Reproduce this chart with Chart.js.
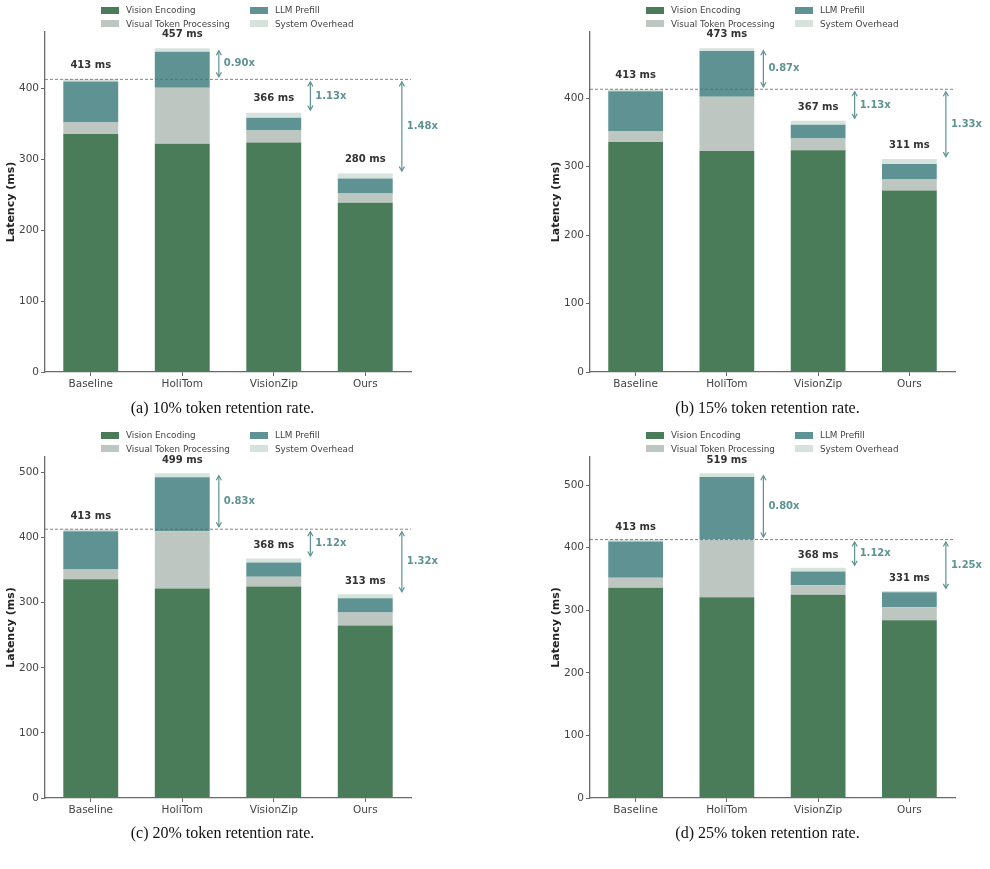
<!DOCTYPE html>
<html>
<head>
<meta charset="utf-8">
<script src="https://cdn.jsdelivr.net/npm/chart.js@4.4.0/dist/chart.umd.min.js"></script>
<style>
  body { margin: 0; background: #fff; width: 990px; height: 869px; position: relative; overflow: hidden; font-family: "DejaVu Sans", sans-serif; }
  .panel { position: absolute; width: 445px; height: 425px; }
  .panel canvas { position: absolute; left: 0; top: 0; }
  .leg { position: absolute; font-size: 8.8px; color: #444; white-space: nowrap; line-height: 10px; }
  .leg span.box { position: absolute; left: 0; top: 1.5px; width: 18px; height: 7px; }
  .leg span.txt { position: absolute; left: 25px; top: 0; }
  .caption { position: absolute; left: 0; width: 445px; top: 399px; text-align: center; font-family: "Liberation Serif", serif; font-size: 16px; color: #111; }
</style>
</head>
<body>
<div class="panel" id="pa" style="left:0;top:0"><canvas id="ca" width="445" height="400"></canvas></div>
<div class="panel" id="pb" style="left:545px;top:0"><canvas id="cb" width="445" height="400"></canvas></div>
<div class="panel" id="pc" style="left:0;top:425px"><canvas id="cc" width="445" height="400"></canvas></div>
<div class="panel" id="pd" style="left:545px;top:425px"><canvas id="cd" width="445" height="400"></canvas></div>
<script>
// categories and series
const categories = ['Baseline', 'HoliTom', 'VisionZip', 'Ours'];
const seriesNames = ['Vision Encoding', 'Visual Token Processing', 'LLM Prefill', 'System Overhead'];
const seriesColors = ['#4a7c59', '#bdc6c0', '#5f9393', '#d5e3dc'];

// 10% retention
const visionEnc10 = [336, 322, 324, 239];
const tokenProc10 = [16, 79, 17, 13];
const llmPrefill10 = [58, 51, 18, 21];
const overhead10 = [3, 5, 7, 7];
const totals10 = [413, 457, 366, 280];
const speedup10 = ['0.90x', '1.13x', '1.48x'];

// 15% retention
const visionEnc15 = [336, 323, 324, 265];
const tokenProc15 = [16, 79, 17, 17];
const llmPrefill15 = [58, 67, 20, 22];
const overhead15 = [3, 4, 6, 7];
const totals15 = [413, 473, 367, 311];
const speedup15 = ['0.87x', '1.13x', '1.33x'];

// 20% retention
const visionEnc20 = [336, 322, 325, 265];
const tokenProc20 = [16, 88, 15, 20];
const llmPrefill20 = [58, 83, 22, 22];
const overhead20 = [3, 6, 6, 6];
const totals20 = [413, 499, 368, 313];
const speedup20 = ['0.83x', '1.12x', '1.32x'];

// 25% retention
const visionEnc25 = [336, 321, 325, 284];
const tokenProc25 = [16, 93, 15, 21];
const llmPrefill25 = [58, 99, 22, 24];
const overhead25 = [3, 6, 6, 2];
const totals25 = [413, 519, 368, 331];
const speedup25 = ['0.80x', '1.12x', '1.25x'];

const yTicks = [0, 100, 200, 300, 400, 500];

const TEAL = '#5f9393';

// dashed baseline, total labels, speedup arrows
const annotate = {
  id: 'annotate',
  afterDatasetsDraw(chart, args, opts) {
    const { ctx, chartArea } = chart;
    const x = chart.scales.x, y = chart.scales.y;
    const totals = opts.totals;
    ctx.save();
    const yRef = y.getPixelForValue(totals[0]);
    ctx.strokeStyle = '#666';
    ctx.lineWidth = 0.8;
    ctx.setLineDash([3, 2]);
    ctx.beginPath();
    ctx.moveTo(chartArea.left, yRef);
    ctx.lineTo(chartArea.right, yRef);
    ctx.stroke();
    ctx.setLineDash([]);

    ctx.font = 'bold 10px "DejaVu Sans"';
    ctx.fillStyle = '#333';
    ctx.textAlign = 'center';
    ctx.textBaseline = 'middle';
    totals.forEach((t, i) => {
      ctx.fillText(t + ' ms', x.getPixelForValue(i), y.getPixelForValue(t + 20));
    });

    ctx.strokeStyle = TEAL;
    ctx.fillStyle = TEAL;
    ctx.lineWidth = 1.2;
    ctx.textAlign = 'left';
    opts.speedups.forEach((s, k) => {
      const i = k + 1;
      const ax = x.getPixelForValue(i + 0.4);
      const yT = y.getPixelForValue(totals[i]);
      const dir = yT < yRef ? -1 : 1;
      const y0 = yRef + dir * 2.5, y1 = yT - dir * 2.5;
      ctx.beginPath();
      ctx.moveTo(ax, y0);
      ctx.lineTo(ax, y1);
      ctx.stroke();
      [[y0, -dir], [y1, dir]].forEach(([yy, d]) => {
        ctx.beginPath();
        ctx.moveTo(ax - 2.6, yy - d * 4.5);
        ctx.lineTo(ax, yy);
        ctx.lineTo(ax + 2.6, yy - d * 4.5);
        ctx.stroke();
      });
      ctx.fillText(s, ax + 5, (y0 + y1) / 2);
    });
    ctx.restore();
  }
};

function makeLegend(panelId) {
  const panel = document.getElementById(panelId);
  const order = [[0, 101, 5], [1, 101, 18.5], [2, 250, 5], [3, 250, 18.5]];
  order.forEach(([k, left, top]) => {
    const d = document.createElement('div');
    d.className = 'leg';
    d.style.left = left + 'px';
    d.style.top = top + 'px';
    d.innerHTML = '<span class="box" style="background:' + seriesColors[k] + '"></span><span class="txt">' + seriesNames[k] + '</span>';
    panel.appendChild(d);
  });
}

function makeCaption(panelId, text) {
  const d = document.createElement('div');
  d.className = 'caption';
  d.textContent = text;
  document.getElementById(panelId).appendChild(d);
}

function drawPanel(canvasId, panelId, caption, series, totals, speedups, xAxisH, padRight) {
  makeLegend(panelId);
  makeCaption(panelId, caption);
  const ctx = document.getElementById(canvasId).getContext('2d');
  const ymax = Math.max(...totals) * 1.05;
  new Chart(ctx, {
    type: 'bar',
    data: {
      labels: categories,
      datasets: series.map((vals, k) => ({
        label: seriesNames[k],
        data: vals,
        backgroundColor: seriesColors[k],
        borderWidth: 0,
        barPercentage: 0.6,
        categoryPercentage: 1.0
      }))
    },
    options: {
      responsive: false,
      animation: false,
      devicePixelRatio: 1,
      layout: { padding: { top: 32, right: padRight, left: 0, bottom: 0 } },
      plugins: {
        legend: { display: false },
        tooltip: { enabled: false },
        annotate: { totals: totals, speedups: speedups }
      },
      scales: {
        x: {
          stacked: true,
          grid: { display: true, offset: false, drawOnChartArea: false, drawTicks: true, tickLength: 4, tickColor: '#666', tickWidth: 1 },
          border: { display: true, color: '#6a6a6a', width: 1.3 },
          ticks: { color: '#444', font: { family: 'DejaVu Sans', size: 10.5 }, padding: 2, maxRotation: 0 },
          afterFit(s) { s.height = xAxisH; }
        },
        y: {
          stacked: true,
          min: 0,
          max: ymax,
          grid: { display: true, drawOnChartArea: false, drawTicks: true, tickLength: 4, tickColor: '#666', tickWidth: 1 },
          border: { display: true, color: '#6a6a6a', width: 1.3 },
          ticks: { stepSize: 100, color: '#444', font: { family: 'DejaVu Sans', size: 10.5 }, padding: 2 },
          afterBuildTicks(s) { s.ticks = yTicks.filter(v => v <= ymax).map(v => ({ value: v })); },
          afterFit(s) { s.width = 45; },
          title: { display: true, text: 'Latency (ms)', color: '#222', font: { family: 'DejaVu Sans', size: 11, weight: 'bold' }, padding: { top: 5, bottom: 0 } }
        }
      }
    },
    plugins: [annotate]
  });
}

drawPanel('ca', 'pa', '(a) 10% token retention rate.', [visionEnc10, tokenProc10, llmPrefill10, overhead10], totals10, speedup10, 28, 34);
drawPanel('cb', 'pb', '(b) 15% token retention rate.', [visionEnc15, tokenProc15, llmPrefill15, overhead15], totals15, speedup15, 28, 35);
drawPanel('cc', 'pc', '(c) 20% token retention rate.', [visionEnc20, tokenProc20, llmPrefill20, overhead20], totals20, speedup20, 27, 34);
drawPanel('cd', 'pd', '(d) 25% token retention rate.', [visionEnc25, tokenProc25, llmPrefill25, overhead25], totals25, speedup25, 27, 35);
</script>
</body>
</html>
